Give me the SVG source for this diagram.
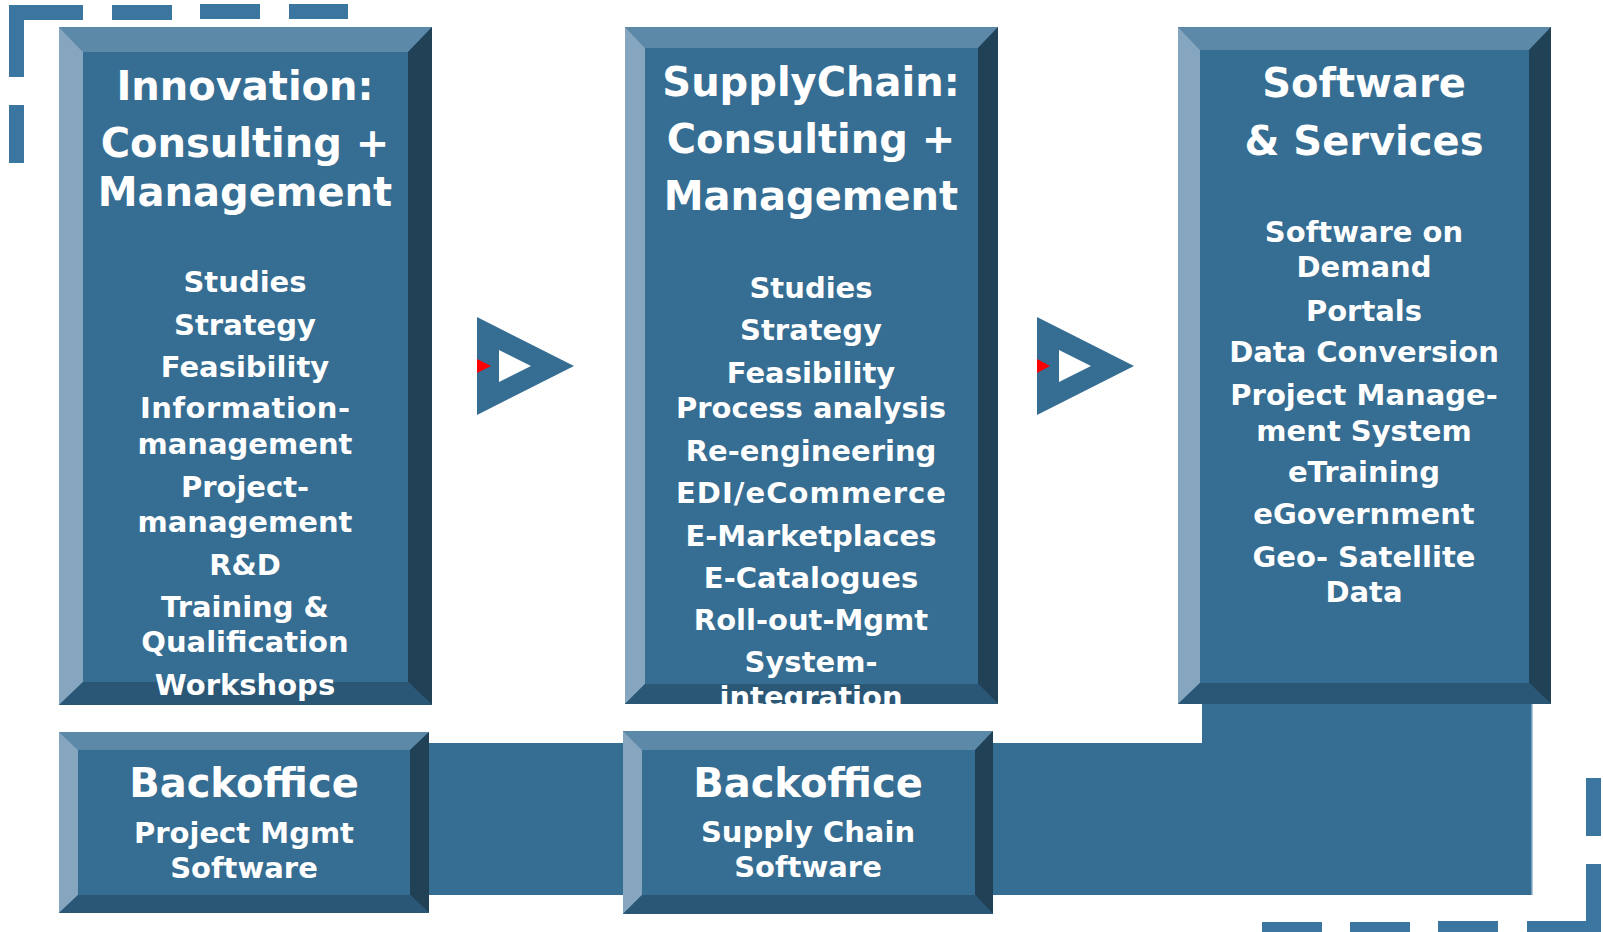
<svg xmlns="http://www.w3.org/2000/svg" width="1603" height="932" viewBox="0 0 1603 932">
<style>
.face{fill:#366d92}
.btop{fill:#5c89a8}
.bleft{fill:#86a6bf}
.bright{fill:#214157}
.bbot{fill:#2b5776}
.dash{fill:#3b76a0}
.t{font-family:"DejaVu Sans",Verdana,sans-serif;font-weight:bold;fill:#ffffff;text-anchor:middle}
.h{font-size:40px}
.i{font-size:29px}
.bh{font-size:40px}
.bs{font-size:29px}
.arr{fill:#366d92;fill-rule:evenodd}
.red{fill:#ff0000}
</style>
<defs>
<clipPath id="c2"><rect x="625" y="27" width="373" height="677"/></clipPath>
</defs>
<rect width="1603" height="932" fill="#ffffff"/>
<g id="frame">
<path class="dash" d="M9 5H83V20H24V77H9Z"/>
<rect class="dash" x="112" y="5" width="60" height="15"/>
<rect class="dash" x="200" y="4" width="60" height="15"/>
<rect class="dash" x="289" y="4" width="59" height="15"/>
<rect class="dash" x="9" y="105" width="15" height="58"/>
<rect class="dash" x="1586" y="778" width="15" height="58"/>
<path class="dash" d="M1586 864H1601V932H1527V921H1586Z"/>
<rect class="dash" x="1438" y="921" width="60" height="11"/>
<rect class="dash" x="1350" y="922" width="60" height="10"/>
<rect class="dash" x="1262" y="922" width="60" height="10"/>
</g>
<g id="connectors">
<path class="face" d="M420 743H1202V704H1532V895H420Z"/>
<path d="M1532 704V895" stroke="#8fb0c8" stroke-width="1.5"/>
<g id="arrow1">
<path class="arr" d="M477 317L574 366L477 415Z M499 350L499 382L531 366Z"/>
<path class="red" d="M477 359L491 366L477 373Z"/>
</g>
<g id="arrow2">
<path class="arr" d="M1037 317L1134 366L1037 415Z M1059 350L1059 382L1091 366Z"/>
<path class="red" d="M1037 359L1050 366L1037 373Z"/>
</g>
</g>
<g id="innovation">
<rect class="face" x="59" y="27" width="373" height="678"/>
<path class="btop" d="M59 27H432L408 52H83Z"/>
<path class="bleft" d="M59 27L83 52V682L59 705Z"/>
<path class="bright" d="M432 27V705L408 682V52Z"/>
<path class="bbot" d="M59 705L83 682H408L432 705Z"/>
<text class="t h" x="245" y="100">Innovation:</text>
<text class="t h" x="245" y="157">Consulting +</text>
<text class="t h" x="245" y="206">Management</text>
<text class="t i" x="245" y="292">Studies</text>
<text class="t i" x="245" y="335">Strategy</text>
<text class="t i" x="245" y="377">Feasibility</text>
<text class="t i" x="245" y="418" textLength="210">Information-</text>
<text class="t i" x="245" y="454">management</text>
<text class="t i" x="245" y="497">Project-</text>
<text class="t i" x="245" y="532">management</text>
<text class="t i" x="245" y="575">R&amp;D</text>
<text class="t i" x="245" y="617">Training &amp;</text>
<text class="t i" x="245" y="652">Qualification</text>
<text class="t i" x="245" y="695">Workshops</text>
</g>
<g id="supplychain">
<rect class="face" x="625" y="27" width="373" height="677"/>
<path class="btop" d="M625 27H998L978 48H645Z"/>
<path class="bleft" d="M625 27L645 48V684L625 704Z"/>
<path class="bright" d="M998 27V704L978 684V48Z"/>
<path class="bbot" d="M625 704L645 684H978L998 704Z"/>
<g clip-path="url(#c2)">
<text class="t h" x="811" y="96">SupplyChain:</text>
<text class="t h" x="811" y="153">Consulting +</text>
<text class="t h" x="811" y="210">Management</text>
<text class="t i" x="811" y="298">Studies</text>
<text class="t i" x="811" y="340">Strategy</text>
<text class="t i" x="811" y="383">Feasibility</text>
<text class="t i" x="811" y="418">Process analysis</text>
<text class="t i" x="811" y="461">Re-engineering</text>
<text class="t i" x="811" y="503" textLength="270">EDI/eCommerce</text>
<text class="t i" x="811" y="546">E-Marketplaces</text>
<text class="t i" x="811" y="588">E-Catalogues</text>
<text class="t i" x="811" y="630">Roll-out-Mgmt</text>
<text class="t i" x="811" y="672">System-</text>
<text class="t i" x="811" y="707">integration</text>
</g>
</g>
<g id="software">
<rect class="face" x="1178" y="27" width="373" height="677"/>
<path class="btop" d="M1178 27H1551L1529 50H1200Z"/>
<path class="bleft" d="M1178 27L1200 50V683L1178 704Z"/>
<path class="bright" d="M1551 27V704L1529 683V50Z"/>
<path class="bbot" d="M1178 704L1200 683H1529L1551 704Z"/>
<text class="t h" x="1364" y="97">Software</text>
<text class="t h" x="1364" y="155">&amp; Services</text>
<text class="t i" x="1364" y="242">Software on</text>
<text class="t i" x="1364" y="277">Demand</text>
<text class="t i" x="1364" y="321">Portals</text>
<text class="t i" x="1364" y="362">Data Conversion</text>
<text class="t i" x="1364" y="405">Project Manage-</text>
<text class="t i" x="1364" y="441">ment System</text>
<text class="t i" x="1364" y="482">eTraining</text>
<text class="t i" x="1364" y="524">eGovernment</text>
<text class="t i" x="1364" y="567">Geo- Satellite</text>
<text class="t i" x="1364" y="602">Data</text>
</g>
<g id="backoffice1">
<rect class="face" x="59" y="732" width="370" height="181"/>
<path class="btop" d="M59 732H429L410 750H78Z"/>
<path class="bleft" d="M59 732L78 750V895L59 913Z"/>
<path class="bright" d="M429 732V913L410 895V750Z"/>
<path class="bbot" d="M59 913L78 895H410L429 913Z"/>
<text class="t bh" x="244" y="797">Backoffice</text>
<text class="t bs" x="244" y="843">Project Mgmt</text>
<text class="t bs" x="244" y="878">Software</text>
</g>
<g id="backoffice2">
<rect class="face" x="623" y="731" width="370" height="183"/>
<path class="btop" d="M623 731H993L975 750H642Z"/>
<path class="bleft" d="M623 731L642 750V895L623 914Z"/>
<path class="bright" d="M993 731V914L975 895V750Z"/>
<path class="bbot" d="M623 914L642 895H975L993 914Z"/>
<text class="t bh" x="808" y="797">Backoffice</text>
<text class="t bs" x="808" y="842">Supply Chain</text>
<text class="t bs" x="808" y="877">Software</text>
</g>
</svg>
